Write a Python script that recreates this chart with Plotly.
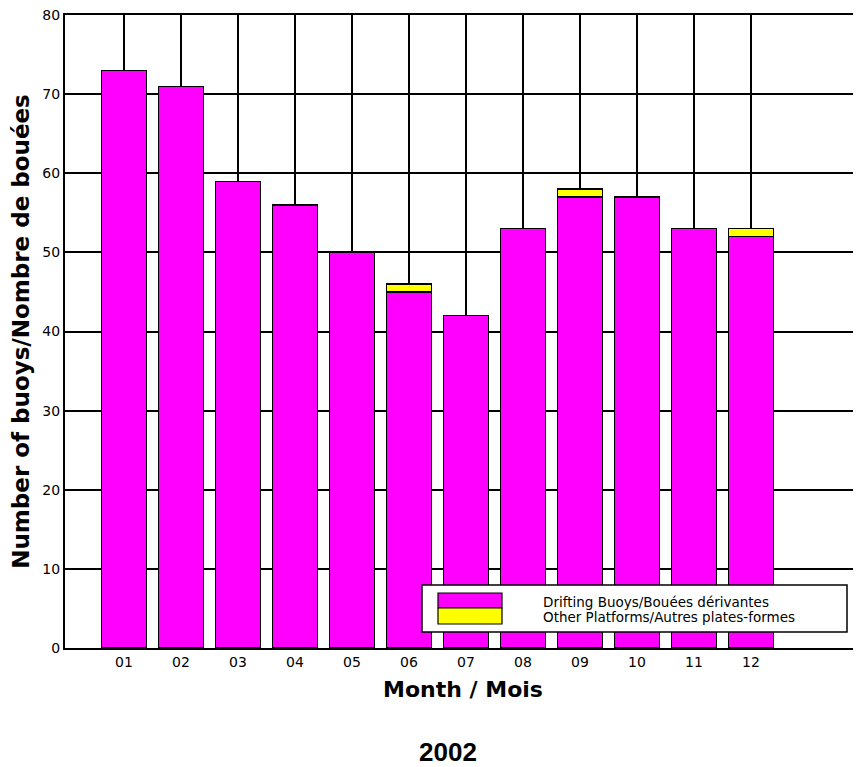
import plotly.graph_objects as go

months = ["01", "02", "03", "04", "05", "06", "07", "08", "09", "10", "11", "12"]
month_pos = list(range(1, 13))
drifting = [73, 71, 59, 56, 50, 45, 42, 53, 57, 57, 53, 52]
other = [0, 0, 0, 0, 0, 1, 0, 0, 1, 0, 0, 1]
y_ticks = [0, 10, 20, 30, 40, 50, 60, 70, 80]

# page offset of the figure div (default body margin)
OFF = 8
W, H = 861 - OFF, 767 - OFF
L, R, T, B = 65 - OFF, 0, 15 - OFF, 119
PW, PH = W - L - R, H - T - B

def px(x):
    # page pixel x -> paper coordinate
    return (x - OFF - L) / PW

def py(y):
    # page pixel y -> paper coordinate
    return (H - B - (y - OFF)) / PH

FONT = "DejaVu Sans"

fig = go.Figure()
fig.add_trace(go.Bar(x=month_pos, y=drifting, name="Drifting Buoys/Bouées dérivantes",
                     marker=dict(color="#FF00FF", line=dict(color="black", width=1.2)),
                     width=0.8, showlegend=False))
fig.add_trace(go.Bar(x=month_pos, y=other, name="Other Platforms/Autres plates-formes",
                     marker=dict(color="#FFFF00", line=dict(color="black", width=1.2)),
                     width=0.8, showlegend=False))

shapes = [
    dict(type="rect", xref="paper", yref="paper", x0=px(422), x1=px(847), y0=py(632), y1=py(585),
         fillcolor="white", line=dict(color="black", width=1.5), layer="above"),
    dict(type="rect", xref="paper", yref="paper", x0=px(438), x1=px(502), y0=py(608), y1=py(593),
         fillcolor="#FF00FF", line=dict(color="black", width=1.2), layer="above"),
    dict(type="rect", xref="paper", yref="paper", x0=px(438), x1=px(502), y0=py(624), y1=py(608),
         fillcolor="#FFFF00", line=dict(color="black", width=1.2), layer="above"),
]
annotations = [
    dict(text="Drifting Buoys/Bouées dérivantes", xref="paper", yref="paper", x=px(541), y=py(602),
         xanchor="left", yanchor="middle", showarrow=False,
         font=dict(family=FONT, size=13.5, color="black")),
    dict(text="Other Platforms/Autres plates-formes", xref="paper", yref="paper", x=px(541), y=py(617),
         xanchor="left", yanchor="middle", showarrow=False,
         font=dict(family=FONT, size=13.5, color="black")),
    dict(text="<b>2002</b>", xref="paper", yref="paper", x=px(448), y=py(752),
         xanchor="center", yanchor="middle", showarrow=False,
         font=dict(family="Liberation Sans, Arial", size=26, color="black")),
]

fig.update_layout(
    width=W, height=H,
    margin=dict(l=L, r=R, t=T, b=B),
    barmode="stack",
    plot_bgcolor="white", paper_bgcolor="white",
    font=dict(family=FONT, color="black", size=14),
    shapes=shapes, annotations=annotations,
    xaxis=dict(range=[1 - 59 / 57, 1 + 796 / 57 - 59 / 57], tickmode="array", tickvals=month_pos, ticktext=months,
               showgrid=True, gridcolor="black", gridwidth=1.5,
               showline=True, linecolor="black", linewidth=2, mirror=True,
               ticks="", tickfont=dict(size=14), zeroline=False,
               title=dict(text="<b>Month / Mois</b>", font=dict(size=22), standoff=13)),
    yaxis=dict(range=[0, 80], tickmode="array", tickvals=y_ticks,
               showgrid=True, gridcolor="black", gridwidth=1.5,
               showline=True, linecolor="black", linewidth=2,
               ticks="", tickfont=dict(size=14), zeroline=False, ticklabeloverflow="allow",
               title=dict(text="<b>Number of buoys/Nombre de bouées</b>", font=dict(size=23), standoff=8)),
)

fig.write_html("out.html")
